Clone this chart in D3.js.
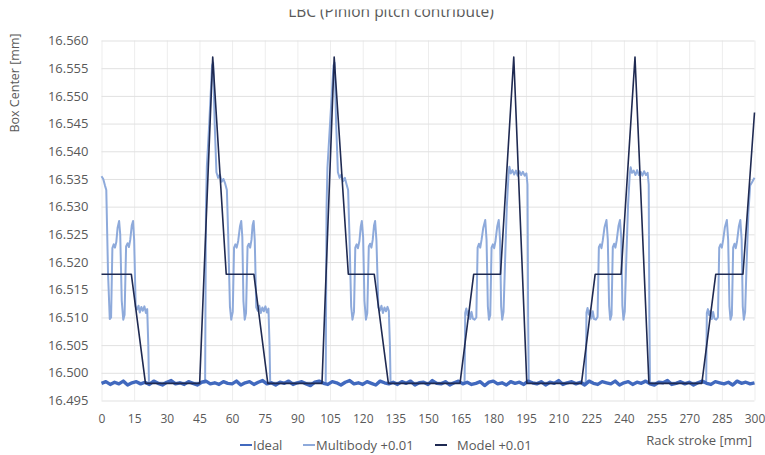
<!DOCTYPE html>
<html lang="en">
<head>
  <meta charset="UTF-8">
  <title>LBC (Pinion pitch contribute)</title>
  <script src="https://d3js.org/d3.v7.min.js"></script>
  <style>
    body {
      margin: 0;
      padding: 0;
      background: #fff;
    }
    svg text {
      font-family: "Open Sans", sans-serif;
      fill: #595959;
    }
  </style>
</head>
<body>
<svg id="chart" width="765" height="455"></svg>
<script>
const title = "LBC (Pinion pitch contribute)";
const yTitle = "Box Center [mm]";
const xTitle = "Rack stroke [mm]";

const xTicks = d3.range(0, 301, 15);
const yTicks = [16.495, 16.500, 16.505, 16.510, 16.515, 16.520, 16.525, 16.530,
                16.535, 16.540, 16.545, 16.550, 16.555, 16.560];

// Ideal: sampled every 2 mm of rack stroke
const idealStep = 2;
const idealValues = [
  16.4981,16.4984,16.4979,16.4983,16.4980,16.4985,16.4978,16.4982,16.4984,16.4980,
  16.4983,16.4979,16.4985,16.4981,16.4978,16.4983,16.4986,16.4980,16.4982,16.4979,
  16.4984,16.4981,16.4978,16.4983,16.4985,16.4980,16.4982,16.4979,16.4984,16.4981,
  16.4980,16.4985,16.4978,16.4982,16.4984,16.4979,16.4983,16.4986,16.4980,16.4982,
  16.4978,16.4983,16.4981,16.4985,16.4979,16.4982,16.4984,16.4980,16.4977,16.4983,
  16.4985,16.4981,16.4979,16.4984,16.4982,16.4978,16.4983,16.4986,16.4980,16.4982,
  16.4979,16.4984,16.4981,16.4978,16.4985,16.4982,16.4980,16.4983,16.4979,16.4984,
  16.4981,16.4985,16.4978,16.4982,16.4983,16.4979,16.4986,16.4981,16.4980,16.4984,
  16.4978,16.4982,16.4985,16.4980,16.4983,16.4979,16.4981,16.4984,16.4977,16.4983,
  16.4985,16.4980,16.4982,16.4978,16.4984,16.4981,16.4983,16.4979,16.4985,16.4982,
  16.4980,16.4984,16.4978,16.4983,16.4981,16.4986,16.4979,16.4982,16.4984,16.4980,
  16.4983,16.4978,16.4985,16.4981,16.4979,16.4984,16.4982,16.4980,16.4985,16.4978,
  16.4982,16.4984,16.4979,16.4983,16.4981,16.4985,16.4980,16.4978,16.4983,16.4982,
  16.4986,16.4979,16.4981,16.4984,16.4980,16.4983,16.4978,16.4982,16.4985,16.4981,
  16.4979,16.4984,16.4982,16.4980,16.4983,16.4978,16.4985,16.4981,16.4983,16.4980,
  16.4982
];

// Multibody +0.01: [stroke mm, value]
const multibody = [
  [0, 16.5355], [0.8, 16.5350], [1.6, 16.5338], [2.2, 16.5330], [3.0, 16.5180], [3.8, 16.5097],
  [4.4, 16.5100], [5.0, 16.5225], [5.6, 16.5232], [6.2, 16.5226], [6.8, 16.5236], [7.4, 16.5262],
  [8.1, 16.5274], [8.6, 16.5250], [9.3, 16.5130], [10.0, 16.5096], [10.6, 16.5105], [11.3, 16.5228],
  [12.0, 16.5234], [12.6, 16.5227], [13.2, 16.5240], [13.9, 16.5266], [14.5, 16.5274], [15.0, 16.5240],
  [15.7, 16.5120], [16.3, 16.5114], [17.0, 16.5121], [17.6, 16.5109], [18.3, 16.5119], [19.0, 16.5112],
  [19.7, 16.5120], [20.4, 16.5108], [21.0, 16.5115], [21.5, 16.5050], [21.8, 16.4982],
  [30, 16.4982], [47.6, 16.4982],
  [48.0, 16.5300], [48.4, 16.5372], [49.5, 16.5450], [50.8, 16.5555], [51.3, 16.5560], [52.0, 16.5450],
  [52.8, 16.5362], [53.6, 16.5352], [54.4, 16.5358], [55.2, 16.5345], [56.0, 16.5350], [56.8, 16.5342],
  [57.6, 16.5330], [58.2, 16.5250], [59.0, 16.5120], [59.6, 16.5096], [60.3, 16.5110], [60.9, 16.5226],
  [61.5, 16.5232], [62.1, 16.5226], [62.8, 16.5238], [63.6, 16.5264], [64.2, 16.5274], [64.7, 16.5245],
  [65.2, 16.5130], [65.8, 16.5096], [66.4, 16.5108], [67.1, 16.5228], [67.7, 16.5233], [68.3, 16.5226],
  [68.9, 16.5240], [69.4, 16.5266], [69.9, 16.5274], [70.4, 16.5240], [71.1, 16.5118], [71.8, 16.5112],
  [72.5, 16.5121], [73.2, 16.5108], [73.9, 16.5118], [74.6, 16.5111], [75.3, 16.5120], [76.0, 16.5109],
  [76.7, 16.5116], [77.2, 16.5050], [77.5, 16.4982],
  [90, 16.4982], [103.0, 16.4982],
  [103.4, 16.5300], [103.8, 16.5370], [105.0, 16.5450], [106.6, 16.5555], [107.1, 16.5560], [107.8, 16.5450],
  [108.6, 16.5362], [109.4, 16.5352], [110.2, 16.5358], [111.0, 16.5346], [111.8, 16.5352], [112.6, 16.5340],
  [113.3, 16.5330], [113.9, 16.5250], [114.7, 16.5120], [115.3, 16.5096], [116.0, 16.5110], [116.6, 16.5226],
  [117.2, 16.5232], [117.8, 16.5225], [118.5, 16.5238], [119.1, 16.5264], [119.6, 16.5274], [120.2, 16.5245],
  [120.8, 16.5130], [121.5, 16.5096], [122.1, 16.5108], [122.8, 16.5228], [123.4, 16.5233], [124.0, 16.5226],
  [124.6, 16.5240], [125.2, 16.5266], [125.7, 16.5274], [126.3, 16.5240], [127.2, 16.5118], [127.9, 16.5112],
  [128.6, 16.5121], [129.3, 16.5108], [130.0, 16.5118], [130.7, 16.5111], [131.4, 16.5119], [132.0, 16.5112],
  [132.5, 16.5050], [132.8, 16.4982],
  [150, 16.4982], [166.8, 16.4982],
  [167.1, 16.5108], [167.6, 16.5116], [168.2, 16.5104], [168.8, 16.5112], [169.4, 16.5097], [170.0, 16.5110],
  [170.6, 16.5098], [171.4, 16.5096], [172.2, 16.5100], [172.8, 16.5226], [173.4, 16.5233], [174.0, 16.5226],
  [174.6, 16.5240], [175.4, 16.5262], [176.3, 16.5276], [176.9, 16.5240], [177.5, 16.5120], [178.0, 16.5096],
  [178.6, 16.5104], [179.2, 16.5226], [179.8, 16.5232], [180.4, 16.5225], [181.0, 16.5238], [181.8, 16.5264],
  [182.5, 16.5276], [183.1, 16.5240], [183.6, 16.5120], [184.1, 16.5096], [184.7, 16.5110], [185.4, 16.5200],
  [186.2, 16.5300], [187.0, 16.5358], [187.4, 16.5372], [188.0, 16.5360], [188.8, 16.5366], [189.6, 16.5358],
  [190.4, 16.5365], [191.2, 16.5356], [192.0, 16.5364], [192.8, 16.5357], [193.6, 16.5363], [194.4, 16.5356],
  [195.2, 16.5360], [195.7, 16.5340], [196.0, 16.5100], [196.3, 16.4982],
  [210, 16.4982], [222.5, 16.4982],
  [222.8, 16.5109], [223.3, 16.5117], [223.9, 16.5105], [224.5, 16.5113], [225.1, 16.5098], [225.7, 16.5111],
  [226.3, 16.5097], [227.1, 16.5096], [227.9, 16.5101], [228.5, 16.5227], [229.1, 16.5232], [229.7, 16.5225],
  [230.3, 16.5239], [231.1, 16.5263], [232.0, 16.5276], [232.6, 16.5241], [233.2, 16.5121], [233.7, 16.5096],
  [234.3, 16.5105], [234.9, 16.5227], [235.5, 16.5233], [236.1, 16.5226], [236.7, 16.5239], [237.5, 16.5265],
  [238.2, 16.5276], [238.8, 16.5242], [239.3, 16.5121], [239.8, 16.5096], [240.4, 16.5111], [241.1, 16.5205],
  [241.9, 16.5302], [242.7, 16.5359], [243.1, 16.5371], [243.7, 16.5361], [244.5, 16.5365], [245.3, 16.5357],
  [246.1, 16.5366], [246.9, 16.5357], [247.7, 16.5363], [248.5, 16.5356], [249.3, 16.5364], [250.1, 16.5357],
  [250.9, 16.5361], [251.4, 16.5340], [251.7, 16.5100], [252.0, 16.4982],
  [265, 16.4982], [277.8, 16.4982],
  [278.1, 16.5108], [278.6, 16.5115], [279.2, 16.5104], [279.8, 16.5112], [280.4, 16.5097], [281.0, 16.5110],
  [281.6, 16.5098], [282.4, 16.5096], [283.2, 16.5100], [283.8, 16.5226], [284.4, 16.5232], [285.0, 16.5226],
  [285.6, 16.5240], [286.4, 16.5263], [287.3, 16.5276], [287.9, 16.5240], [288.5, 16.5120], [289.0, 16.5096],
  [289.6, 16.5104], [290.2, 16.5226], [290.8, 16.5233], [291.4, 16.5225], [292.0, 16.5238], [292.8, 16.5264],
  [293.5, 16.5276], [294.1, 16.5240], [294.6, 16.5120], [295.1, 16.5096], [295.7, 16.5110], [296.4, 16.5200],
  [297.2, 16.5290], [298.0, 16.5338], [299.0, 16.5345], [300, 16.5352]
];

// Model +0.01: [stroke mm, value]
const model = [
  [0, 16.5178], [13.7, 16.5178], [20.2, 16.4981], [45.1, 16.4981], [51.1, 16.5570], [57.3, 16.5178],
  [70.0, 16.5178], [76.4, 16.4981], [101.3, 16.4981], [106.9, 16.5570], [113.4, 16.5178], [125.3, 16.5178],
  [131.8, 16.4981], [164.7, 16.4981], [171.0, 16.5178], [183.3, 16.5178], [189.4, 16.5570], [195.4, 16.4981],
  [220.5, 16.4981], [226.8, 16.5178], [238.7, 16.5178], [245.1, 16.5570], [251.5, 16.4981], [275.8, 16.4981],
  [282.2, 16.5178], [294.7, 16.5178], [300, 16.5470]
];

const seriesNames = ["Ideal", "Multibody +0.01", "Model +0.01"];
const seriesColors = ["#4169be", "#8eaadb", "#1f2a52"];

const svg = d3.select("#chart");
const plotLeft = 101.5, plotRight = 754.5, plotTop = 40.5, plotBottom = 400.5;

const x = d3.scaleLinear().domain([0, 300]).range([plotLeft, plotRight]);
const y = d3.scaleLinear().domain([16.495, 16.560]).range([plotBottom, plotTop]);

// gridlines
svg.append("g")
  .attr("transform", `translate(0,${plotBottom})`)
  .call(d3.axisBottom(x).tickValues(xTicks).tickSize(-(plotBottom - plotTop)).tickFormat(""))
  .call(g => g.select(".domain").remove())
  .call(g => g.selectAll("line").attr("stroke", "#ededed"));

svg.append("g")
  .attr("transform", `translate(${plotLeft},0)`)
  .call(d3.axisLeft(y).tickValues(yTicks).tickSize(-(plotRight - plotLeft)).tickFormat(""))
  .call(g => g.select(".domain").remove())
  .call(g => g.selectAll("line").attr("stroke", "#e1e1e1"));

// tick labels
svg.append("g")
  .attr("transform", `translate(${plotLeft},0)`)
  .call(d3.axisLeft(y).tickValues(yTicks).tickSize(0).tickPadding(13).tickFormat(d3.format(".3f")))
  .call(g => g.select(".domain").remove())
  .call(g => g.selectAll("text").attr("font-size", 13).attr("font-family", null).attr("fill", "#595959"));

svg.append("g")
  .attr("transform", `translate(0,${plotBottom})`)
  .call(d3.axisBottom(x).tickValues(xTicks).tickSize(0).tickPadding(14).tickFormat(d3.format("d")))
  .call(g => g.select(".domain").remove())
  .call(g => g.selectAll("text").attr("font-size", 12).attr("font-family", null).attr("fill", "#595959"));

// series
const line = d3.line().x(d => x(d[0])).y(d => y(d[1]));
const idealData = idealValues.map((v, i) => [i * idealStep, v]);

svg.append("path")
  .datum(multibody)
  .attr("d", line)
  .attr("fill", "none")
  .attr("stroke", seriesColors[1])
  .attr("stroke-width", 2)
  .attr("stroke-linejoin", "round");

svg.append("path")
  .datum(idealData)
  .attr("d", line)
  .attr("fill", "none")
  .attr("stroke", seriesColors[0])
  .attr("stroke-width", 3.4)
  .attr("stroke-linejoin", "round");

svg.append("path")
  .datum(model)
  .attr("d", line)
  .attr("fill", "none")
  .attr("stroke", seriesColors[2])
  .attr("stroke-width", 1.6)
  .attr("stroke-linejoin", "round");

// title, clipped like the cropped original
svg.append("clipPath").attr("id", "titleClip")
  .append("rect").attr("x", 0).attr("y", 9.5).attr("width", 765).attr("height", 20);
svg.append("text")
  .attr("clip-path", "url(#titleClip)")
  .attr("x", 391).attr("y", 16.5)
  .attr("text-anchor", "middle")
  .attr("font-size", 15.5)
  .text(title);

svg.append("text")
  .attr("transform", "translate(19,83) rotate(-90)")
  .attr("text-anchor", "middle")
  .attr("font-size", 12.5)
  .text(yTitle);

svg.append("text")
  .attr("x", 752).attr("y", 444.5)
  .attr("text-anchor", "end")
  .attr("font-size", 13)
  .text(xTitle);

// legend
const legendX = [240, 303, 435];
const legend = svg.append("g");
seriesNames.forEach((name, i) => {
  legend.append("line")
    .attr("x1", legendX[i]).attr("x2", legendX[i] + 12)
    .attr("y1", 445).attr("y2", 445)
    .attr("stroke", seriesColors[i])
    .attr("stroke-width", 2);
  legend.append("text")
    .attr("x", legendX[i] + (i === 2 ? 22 : 13)).attr("y", 449.5)
    .attr("font-size", 13)
    .text(name);
});
</script>
</body>
</html>
